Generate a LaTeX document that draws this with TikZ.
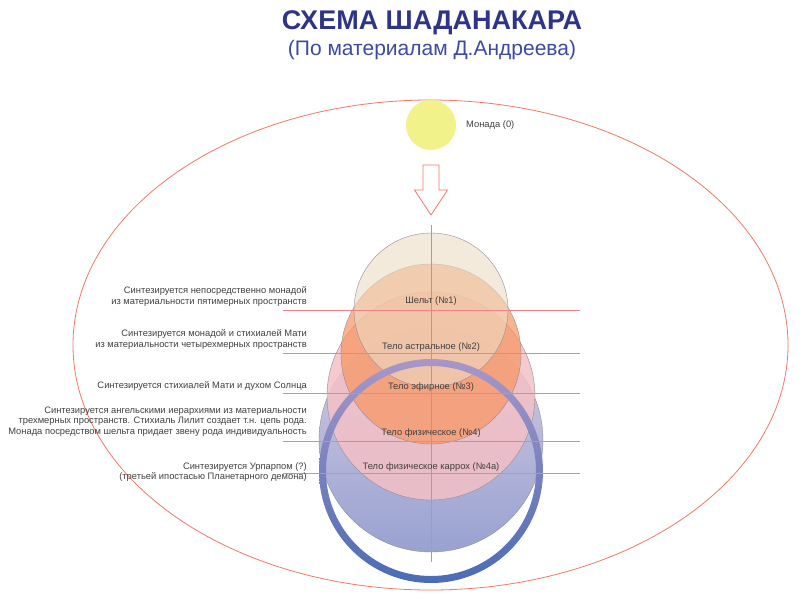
\documentclass[tikz,border=0pt]{standalone}
\usepackage{fontspec}
\setmainfont{Liberation Sans}
\definecolor{titleblue}{HTML}{2E3588}
\definecolor{subblue}{HTML}{3B4BA3}
\definecolor{ellred}{HTML}{F07A66}
\definecolor{monad}{HTML}{F2F28A}
\definecolor{txt}{HTML}{404040}
\definecolor{hline}{HTML}{F0808C}
\definecolor{vline}{HTML}{9AA2A2}
\definecolor{beige}{HTML}{EEDCC4}
\definecolor{astral}{HTML}{F7955F}
\definecolor{pinkc}{HTML}{F4C0C6}
\definecolor{bluetop}{HTML}{D6CCE4}
\definecolor{bluebot}{HTML}{98A2D0}
\definecolor{ringtop}{HTML}{A897C8}
\definecolor{ringmid}{HTML}{6580C2}
\definecolor{ringbot}{HTML}{4A6CB5}
\definecolor{outl}{HTML}{8E8E9C}
\begin{document}
\begin{tikzpicture}[x=1pt,y=-1pt,
  lbl/.style={font=\fontsize{9.35}{10.8}\selectfont, text=txt, inner sep=0pt},
  leftlbl/.style={lbl, anchor=east, align=right},
  bodylbl/.style={lbl, anchor=center},
  hrule/.style={draw=hline, line width=0.8pt},
  bodyline/.style={draw=outl, line width=0.4pt}]
\useasboundingbox (0,0) rectangle (800,605);
\fill[white] (0,0) rectangle (800,605);
% title
\node[font=\fontsize{27}{30}\selectfont\bfseries, text=titleblue, inner sep=0pt] (title) at (432,22.5) {СХЕМА ШАДАНАКАРА};
\node[font=\fontsize{21}{24}\selectfont, text=subblue, inner sep=0pt] (subtitle) at (432,50) {(По материалам Д.Андреева)};
% big ellipse
\draw[ellred, line width=0.8pt] (430.5,345) ellipse [x radius=357.5pt, y radius=245pt];
% monad
\fill[monad] (431,125) circle (25pt);
\node[lbl, anchor=west] (monadl) at (466,125) {Монада (0)};
% arrow
\draw[ellred, line width=0.8pt, fill=white, line join=miter]
  (423,165) -- (439,165) -- (439,190) -- (447.5,190) -- (431,215) -- (414.5,190) -- (423,190) -- cycle;
% bodies
\shade[top color=bluetop, bottom color=bluebot] (431,440) circle (112pt);
\draw[bodyline] (431,440) circle (112pt);
\fill[pinkc, fill opacity=0.85] (431,396) circle (104pt);
\draw[bodyline] (431,396) circle (104pt);
\fill[astral, fill opacity=0.7] (431,354) circle (90pt);
\draw[bodyline] (431,354) circle (90pt);
\fill[beige, fill opacity=0.6] (431,310) circle (77pt);
\draw[bodyline] (431,310) circle (77pt);
% ring
\shade[top color=ringtop, middle color=ringmid, bottom color=ringbot, even odd rule]
  (431,471) circle (112pt) (431,471) circle (105pt);
% vertical axis
\coordinate (vtop) at (431,225);
\coordinate (vbot) at (431,562);
\draw[vline, line width=0.8pt] (vtop) -- (vbot);
% horizontal lines
\foreach \n/\y in {1/310,2/353,3/393,4/441,5/473}{
  \coordinate (h\n a) at (283,\y);
  \coordinate (h\n b) at (580,\y);
  \draw[hrule] (h\n a) -- (h\n b);
}
% body labels
\node[bodylbl] (b1) at (431,301) {Шельт (№1)};
\node[bodylbl] (b2) at (431,347) {Тело астральное (№2)};
\node[bodylbl] (b3) at (431,387) {Тело эфирное (№3)};
\node[bodylbl] (b4) at (431,433) {Тело физическое (№4)};
\node[bodylbl] (b5) at (431,467) {Тело физическое каррох (№4а)};
% left labels
\node[leftlbl] (l1) at (307,296.5) {Синтезируется непосредственно монадой\\из материальности пятимерных пространств};
\node[leftlbl] (l2) at (307,339.5) {Синтезируется монадой и стихиалей Мати\\из материальности четырехмерных пространств};
\node[leftlbl] (l3) at (307,386) {Синтезируется стихиалей Мати и духом Солнца};
\node[leftlbl] (l4) at (307,421.5) {Синтезируется ангельскими иерархиями из материальности\\трехмерных пространств. Стихиаль Лилит создает т.н. цепь рода.\\Монада посредством шельта придает звену рода индивидуальность};
\node[leftlbl] (l5) at (307,472) {Синтезируется Урпарпом (?)\\(третьей ипостасью Планетарного демона)};
\end{tikzpicture}
\end{document}
